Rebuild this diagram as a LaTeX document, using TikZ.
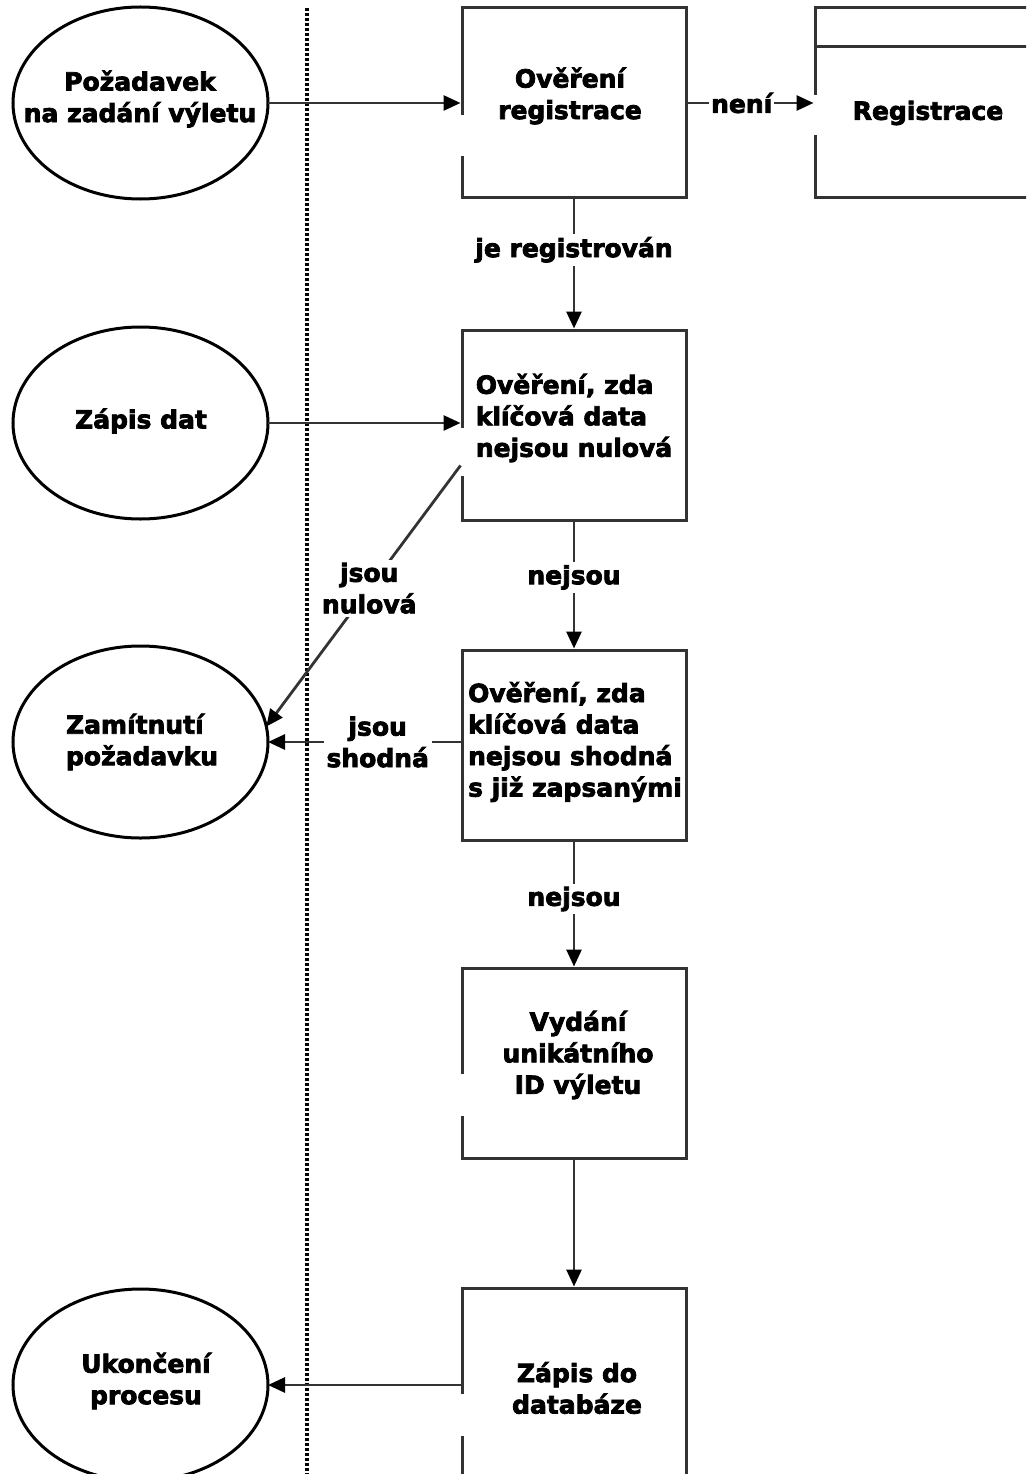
\documentclass[tikz,border=0pt]{standalone}
\usepackage{fontspec}
\setmainfont{DejaVu Sans}[BoldFeatures={FakeBold=3}]
\usetikzlibrary{arrows.meta,shapes.geometric}
\begin{document}
\begin{tikzpicture}[x=1pt,y=-1pt,
  txt/.style={font=\bfseries\fontsize{25}{31.5}\selectfont, inner sep=0pt, text=black},
  stepbox/.style={draw=black!80, line width=3pt, minimum width=224pt, minimum height=190pt, inner sep=0pt},
  term/.style={ellipse, draw=black, line width=3pt, minimum width=255pt, minimum height=192pt, inner sep=0pt, outer sep=0pt},
  lab/.style={txt, fill=white, inner sep=3pt, align=center},
  arr/.style={draw=black!80, line width=2.8pt, -{Triangle[length=17pt,width=15pt,color=black]}},
  gapcut/.style={draw=white, line width=5pt},
  divider/.style={draw=black, line width=3.5pt, dash pattern=on 3pt off 2pt},
]
\useasboundingbox (0,0) rectangle (1026,1474);
\clip (0,0) rectangle (1026,1474);
\fill[white] (0,0) rectangle (1026,1474);

% swimlane divider
\draw[divider] (307,8) -- (307,1474);

% terminators
\node[term] (e1) at (140.5,103) {};
\node[txt, align=center] (e1t) at (140,99) {Požadavek\\na zadání výletu};
\node[term] (e2) at (140.5,423) {};
\node[txt] (e2t) at (141,421) {Zápis dat};
\node[term] (e3) at (140.5,742) {};
\node[txt, align=left] (e3t) at (142,742) {Zamítnutí\\požadavku};
\node[term] (e4) at (140.5,1385) {};
\node[txt, align=center] (e4t) at (146,1381) {Ukončení\\procesu};

% process steps
\node[stepbox] (b1) at (574,103) {};
\node[txt, align=center] (b1t) at (570,96) {Ověření\\registrace};
\node[stepbox] (b2) at (574,425) {};
\node[txt, align=left] (b2t) at (574,418) {Ověření, zda\\klíčová data\\nejsou nulová};
\node[stepbox] (b3) at (574,745) {};
\node[txt, align=left] (b3t) at (575,742) {Ověření, zda\\klíčová data\\nejsou shodná\\s již zapsanými};
\node[stepbox] (b4) at (574,1063) {};
\node[txt, align=center] (b4t) at (578,1055) {Vydání\\unikátního\\ID výletu};
\node[stepbox] (b5) at (574,1383) {};
\node[txt, align=center] (b5t) at (577,1388) {Zápis do\\databáze};

% registration sub-process (runs off the right edge)
\node[stepbox, minimum width=225pt] (reg) at (927.5,103) {};
\draw[draw=black!80, line width=3pt] (reg.north west |- 0,47) -- (reg.north east |- 0,47);
\node[txt] (regt) at (928,113) {Registrace};

% breaks in the left edges of the boxes
\draw[gapcut] (462,115) -- (462,156);
\draw[gapcut] (815,95) -- (815,135);
\draw[gapcut] (462,428) -- (462,476);
\draw[gapcut] (462,1074) -- (462,1116);
\draw[gapcut] (462,1394) -- (462,1436);

% connectors
\draw[arr] (e1.east) -- (e1.east -| b1.west);
\draw[arr] (b1.east) -- node[lab, pos=0.43, inner sep=2pt] {není} (reg.west);
\draw[arr] (b1.south) -- node[lab, pos=0.39] {je registrován} (b2.north);
\draw[arr] (e2.east) -- (e2.east -| b2.west);
\coordinate (d0) at ([yshift=56pt]b2.south west);
\draw[arr] (d0) -- node[lab, pos=0.47] {jsou\\nulová} (e3.7);
\draw[arr] (b2.south) -- node[lab, pos=0.44] {nejsou} (b3.north);
\draw[arr] (e3.east -| b3.west) -- node[lab, pos=0.43] {jsou\\shodná} (e3.east);
\draw[arr] (b3.south) -- node[lab, pos=0.46] {nejsou} (b4.north);
\draw[arr] (b4.south) -- (b5.north);
\draw[arr] (e4.east -| b5.west) -- (e4.east);
\end{tikzpicture}
\end{document}
